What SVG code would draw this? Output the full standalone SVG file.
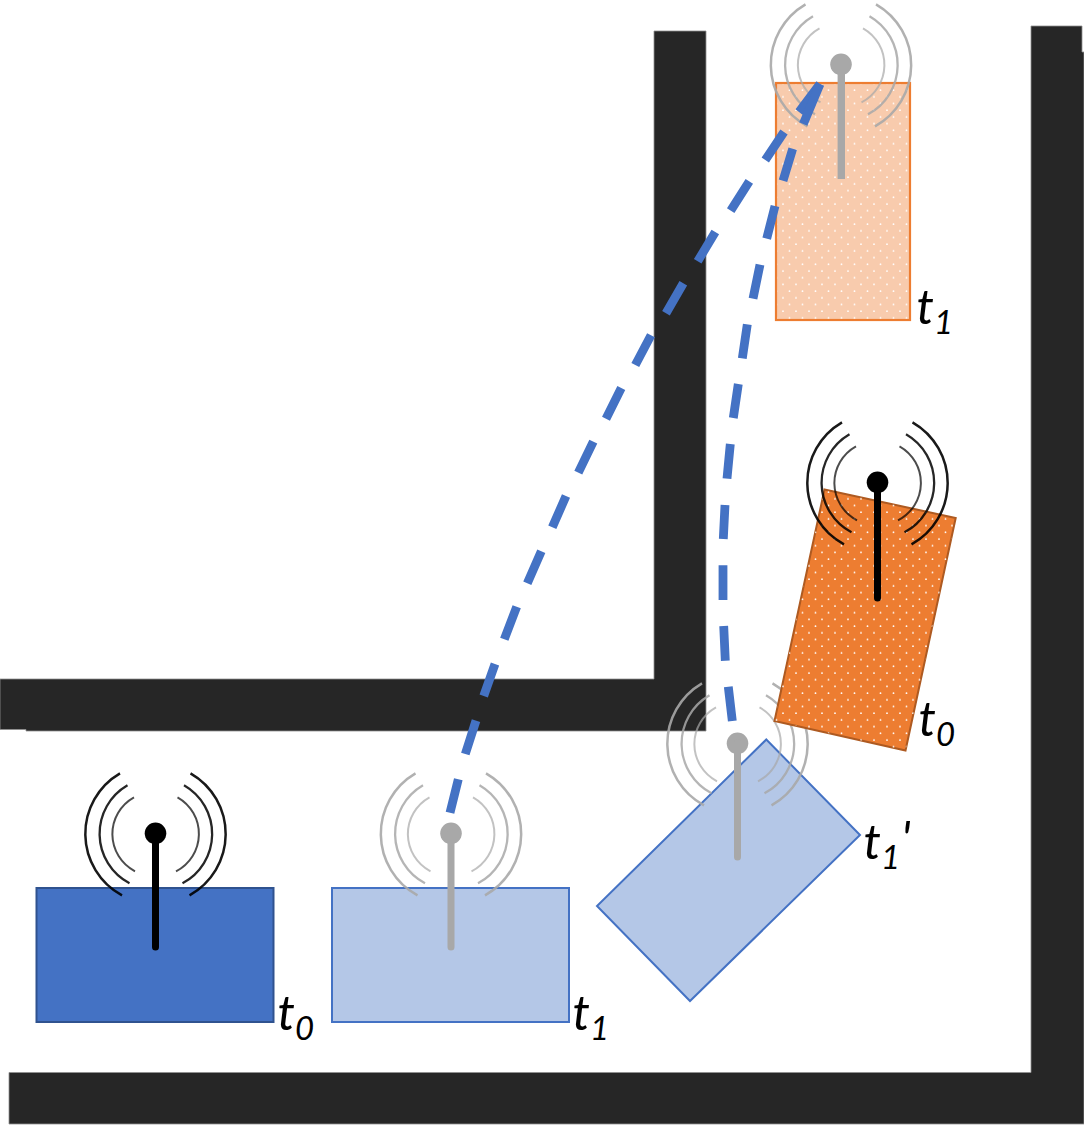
<svg xmlns="http://www.w3.org/2000/svg" width="1084" height="1125" viewBox="0 0 1084 1125">
<style>
.wall{fill:#262626;stroke:#8f8f8f;stroke-width:.8}
.link{fill:none;stroke:#4472c4;stroke-width:8.8}
.arc{fill:none;stroke:currentColor}
.stem{fill:none;stroke:currentColor;stroke-width:7;stroke-linecap:round}
.on{color:#000}
.off{color:#a8a8a8}
.label{font-family:"Lato","Liberation Sans",sans-serif;font-style:italic;font-size:49px;fill:#000}
.sub{font-size:33px}
</style>
<defs>
<pattern id="dots" width="13" height="13.4" patternUnits="userSpaceOnUse">
<circle cx="3" cy="3" r=".9" fill="#fff"/>
<circle cx="9.5" cy="9.7" r=".9" fill="#fff"/>
</pattern>
<g id="waves">
<path class="arc" stroke-width="2.500" opacity=".9" d="M-35.500-60A70 70 0 0 0-33.500 62"/>
<path class="arc" stroke-width="2.300" opacity=".85" d="M-28-48A56 56 0 0 0-26 50"/>
<path class="arc" stroke-width="2" opacity=".7" d="M-21.500-36A42 42 0 0 0-20.500 38"/>
<path class="arc" stroke-width="2.500" opacity=".9" d="M35-60A70 70 0 0 1 34 62"/>
<path class="arc" stroke-width="2.300" opacity=".85" d="M28.500-48A56 56 0 0 1 27 50"/>
<path class="arc" stroke-width="2" opacity=".7" d="M22-36A42 42 0 0 1 20.500 38"/>
<circle r="10.800" fill="currentColor"/>
</g>
</defs>
<rect width="1084" height="1125" fill="#fff"/>
<g id="walls">
<path class="wall" d="M654 31H706V731H26V729.500H0V679H654Z"/>
<path class="wall" d="M1031 26H1082V52H1084V1124H9V1072.500H1031Z"/>
</g>
<g id="robot-blue-t0">
<rect x="36.500" y="888" width="237" height="134" fill="#4472c4" stroke="#2f528f" stroke-width="2"/>
<g class="on"><use href="#waves" x="155.500" y="833.300"/><path class="stem" d="M155.500 833V947"/></g>
<text class="label" x="277.500" y="1030">t<tspan class="sub" dy="10">0</tspan></text>
</g>
<g id="robot-blue-t1">
<rect x="332" y="888" width="237" height="134" fill="#b4c7e7" stroke="#4472c4" stroke-width="2"/>
<g class="off"><use href="#waves" x="451" y="833.300"/><path class="stem" d="M451 833V947"/></g>
<text class="label" x="572.500" y="1030">t<tspan class="sub" dy="10">1</tspan></text>
</g>
<g id="robot-blue-t1-prime">
<path d="M766.300 739.500L860 835L690 1001L597 906Z" fill="#b4c7e7" stroke="#4472c4" stroke-width="2"/>
<g class="off"><use href="#waves" x="737.500" y="743.300"/><path class="stem" d="M737.500 743V857"/></g>
<text class="label" x="863.500" y="859">t<tspan class="sub" dy="10">1</tspan><tspan dx="1" dy="-13">'</tspan></text>
</g>
<g id="robot-orange-t0">
<path d="M824.500 489.500L955.700 518L905.500 750.500L774.500 721Z" fill="#ed7d31" stroke="#ae5a21" stroke-width="2"/>
<path d="M824.500 489.500L955.700 518L905.500 750.500L774.500 721Z" fill="url(#dots)"/>
<g class="on"><use href="#waves" x="877.500" y="482.300"/><path class="stem" d="M877.500 482V598"/></g>
<text class="label" x="918.500" y="736">t<tspan class="sub" dy="10">0</tspan></text>
</g>
<g id="robot-orange-t1">
<rect x="776" y="83" width="134" height="237" fill="#f8cbad"/>
<rect x="776" y="83" width="134" height="237" fill="url(#dots)" stroke="#ed7d31" stroke-width="2.200"/>
<g class="off"><use href="#waves" x="841" y="64.300"/><path d="M841.300 64V179" fill="none" stroke="currentColor" stroke-width="7.400"/></g>
<text class="label" x="916.500" y="324">t<tspan class="sub" dy="10">1</tspan></text>
</g>
<g id="connectors">
<path class="link" d="M820 84L799 112M784 132L765.300 160M749.300 181.300L730.700 210.700M715.300 232L697.700 261.300M683.300 283.300L666 313.300M651 335.300L635.300 365M621.300 388L606 418.700M593.300 441.700L578.300 472.700M566 496L552.300 527.300M541.300 551.300L527.300 583.300M516.700 606.700L504.300 639.300M495 664L483.700 696M476 720.700L465.300 754M458.300 779.300L450 812.700"/>
<path class="link" d="M820 84L803.300 124M792.700 148.700L783 180.700M775 206L766.700 238.700M760 264.700L753 298.700M747.300 324.300L742.300 358.300M738.300 384L733.300 418M730.300 444L727 478.700M725 505L723.300 539M723 565.300V600M723.700 626L725.300 660.700M728.300 686.700L732.300 721"/>
</g>
</svg>
